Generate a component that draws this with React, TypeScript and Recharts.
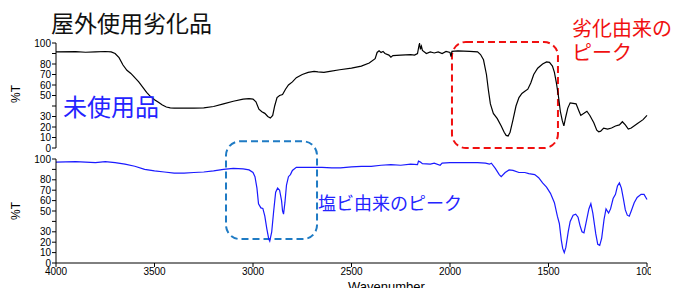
import React from "react";
import { LineChart, Line, XAxis, YAxis, ReferenceArea } from "recharts";

// 屋外使用劣化品 (black, top panel)
const agedWavenumbers = [
  4000, 3900, 3850, 3800, 3750, 3720, 3700, 3680, 3660, 3640, 3620, 3600, 3580, 3560, 3540, 3520, 3500, 3480,
  3460, 3440, 3420, 3400, 3300, 3250, 3200, 3150, 3100, 3050, 3020, 3000, 2985, 2970, 2955, 2940, 2925, 2912,
  2900, 2890, 2878, 2865, 2850, 2835, 2820, 2800, 2780, 2750, 2720, 2690, 2670, 2640, 2610, 2560, 2500, 2450,
  2410, 2380, 2370, 2360, 2350, 2340, 2330, 2310, 2300, 2290, 2250, 2200, 2180, 2165, 2160, 2155, 2150, 2145,
  2140, 2120, 2100, 2080, 2060, 2040, 2020, 2000, 1995, 1990, 1960, 1900, 1860, 1845, 1830, 1815, 1805, 1795,
  1780, 1760, 1740, 1725, 1715, 1705, 1695, 1680, 1665, 1650, 1635, 1620, 1605, 1590, 1575, 1555, 1530, 1510,
  1495, 1480, 1470, 1460, 1450, 1440, 1430, 1422, 1412, 1402, 1390, 1375, 1360, 1345, 1336, 1320, 1305, 1290,
  1270, 1255, 1245, 1235, 1220, 1200, 1180, 1160, 1140, 1125, 1110, 1095, 1080, 1050, 1020, 1000,
];
const agedT = [
  91.5, 91.8, 91.2, 91.6, 91.9, 91.5, 90, 86, 79, 74, 71, 67, 63, 58, 53, 49, 46, 43.5,
  41, 39, 38.3, 38, 38, 38.3, 39.5, 42, 44.5, 46.5, 47, 46.5, 44, 37, 34.5, 33, 30, 28.5,
  31, 40, 48, 50, 51, 56, 60, 63, 67, 70, 72, 73, 72.5, 72, 73, 74.5, 76, 78,
  81, 85, 91, 92.5, 91, 92, 90, 88.5, 86.5, 88, 88.5, 89, 88.5, 90, 95, 100, 94, 97,
  93, 90, 91.5, 90.5, 91.5, 90, 92, 91, 87, 92, 92.5, 92, 91.5, 89, 84, 70, 55, 42,
  33, 28, 21, 15, 12, 11.5, 15, 27, 40, 48, 52, 54, 56, 62, 70, 76, 80, 82,
  81.5, 78, 72, 62, 50, 35, 26, 21, 30, 38, 43, 42.5, 42, 35, 31, 33, 35, 31,
  24, 17, 15.5, 16, 19, 18, 19, 21, 22, 25, 22, 18, 19, 23, 27, 31,
];

// 未使用品 (blue, bottom panel)
const newWavenumbers = [
  4000, 3900, 3800, 3750, 3700, 3650, 3600, 3550, 3500, 3450, 3400, 3350, 3300, 3250, 3200, 3150, 3100, 3050,
  3020, 3000, 2990, 2980, 2972, 2960, 2950, 2940, 2930, 2920, 2915, 2905, 2895, 2885, 2875, 2865, 2855, 2850,
  2845, 2838, 2830, 2820, 2810, 2800, 2780, 2700, 2650, 2600, 2556, 2500, 2450, 2400, 2350, 2300, 2250, 2200,
  2165, 2160, 2150, 2140, 2100, 2080, 2050, 2040, 2000, 1950, 1860, 1820, 1800, 1790, 1770, 1750, 1740, 1720,
  1700, 1680, 1650, 1620, 1600, 1570, 1550, 1530, 1510, 1490, 1470, 1455, 1445, 1435, 1428, 1420, 1412, 1400,
  1390, 1375, 1362, 1350, 1340, 1330, 1320, 1310, 1295, 1285, 1275, 1260, 1250, 1240, 1230, 1218, 1208, 1195,
  1185, 1172, 1160, 1150, 1140, 1130, 1120, 1110, 1100, 1090, 1080, 1065, 1050, 1030, 1015, 1000,
];
const newT = [
  97, 97.5, 96.5, 97.5, 96.5, 95, 93, 90, 88.5, 87.5, 86.5, 86.5, 87, 87.5, 88.5, 90, 91, 90.5,
  89.5, 87, 83, 72, 57, 53, 52.5, 45, 33, 23, 21, 30, 50, 68, 72, 70, 60, 50,
  47, 58, 75, 83, 85, 89, 92, 92, 92, 91.5, 91.5, 92.5, 93, 93, 94, 94.5, 94, 95,
  94.5, 98, 97, 95.5, 95, 96, 94, 96, 96.5, 96.5, 96.5, 96, 95, 96, 91, 85, 83, 87,
  89.5, 89, 87, 87, 86, 85, 82, 77, 73, 67, 58, 45, 38, 22, 14, 10, 15, 30,
  40, 46, 47, 44, 36, 30, 29, 38, 52, 57, 48, 28, 18, 17, 24, 42, 52, 48,
  52, 62, 66, 74, 77, 72, 62, 51, 46, 45, 50, 58, 63, 66, 66, 61,
];

const xTicks = [4000, 3500, 3000, 2500, 2000, 1500, 1000];
const yTicks = [0, 10, 20, 30, 40, 50, 60, 70, 80, 90, 100];
const hiddenYLabels = [40, 90];

const agedData = agedWavenumbers.map((wn, i) => ({ wn, t: agedT[i] }));
const newData = newWavenumbers.map((wn, i) => ({ wn, t: newT[i] }));

const W = 674;
const H = 288;
const tickFont = { fontSize: 10, fill: "#000", fontFamily: "'Liberation Sans', Arial, sans-serif" };
const jp = "'Noto Sans CJK JP', 'Noto Sans', sans-serif";

const roundedBox = (color: string) => (props: any) => (
  <rect
    x={props.x}
    y={props.y}
    width={props.width}
    height={props.height}
    rx={14}
    ry={14}
    fill="none"
    stroke={color}
    strokeWidth={2}
    strokeDasharray="7 4"
  />
);

const yAxisProps = {
  type: "number" as const,
  domain: [0, 100],
  ticks: yTicks,
  width: 56,
  tickSize: 4,
  tickMargin: 1,
  interval: 0 as const,
  tick: tickFont,
  tickFormatter: (v: number) => (hiddenYLabels.includes(v) ? "" : String(v)),
  axisLine: { stroke: "#000" },
  tickLine: { stroke: "#000" },
};

export default function App() {
  return (
    <div style={{ position: "absolute", left: 0, top: 0, width: W, height: H, overflow: "hidden", background: "#fff" }}>
      {/* top panel */}
      <div style={{ position: "absolute", left: 0, top: 0 }}>
        <LineChart width={W} height={154} data={agedData} margin={{ top: 43, right: 27, left: 0, bottom: 6 }}>
          <XAxis dataKey="wn" type="number" domain={[1000, 4000]} reversed hide />
          <YAxis {...yAxisProps} />
          <ReferenceArea x1={1990} x2={1452} y1={0} y2={101} ifOverflow="visible" shape={roundedBox("#f01010")} />
          <Line dataKey="t" stroke="#000" strokeWidth={1.2} dot={false} isAnimationActive={false} />
        </LineChart>
      </div>
      {/* bottom panel */}
      <div style={{ position: "absolute", left: 0, top: 0 }}>
        <LineChart width={W} height={H} data={newData} margin={{ top: 159, right: 27, left: 0, bottom: 0 }}>
          <XAxis
            dataKey="wn"
            type="number"
            domain={[1000, 4000]}
            reversed
            ticks={xTicks}
            interval={0}
            height={25}
            tickSize={4}
            tickMargin={1}
            tick={tickFont}
            axisLine={{ stroke: "#000" }}
            tickLine={{ stroke: "#000" }}
          />
          <YAxis {...yAxisProps} />
          <ReferenceArea x1={3137} x2={2675} y1={23} y2={117} ifOverflow="visible" shape={roundedBox("#1f7bc4")} />
          <Line dataKey="t" stroke="#1a1aff" strokeWidth={1.2} dot={false} isAnimationActive={false} />
        </LineChart>
      </div>
      {/* annotations */}
      <svg width={W} height={H} style={{ position: "absolute", left: 0, top: 0, pointerEvents: "none" }}>
        {/* the source image is cropped just right of the axis end */}
        <rect x={651} y={265} width={30} height={14} fill="#fff" />
        <text x={51} y={22} dominantBaseline="central" fontSize={23} fontFamily={jp} fill="#111">
          屋外使用劣化品
        </text>
        <text x={63} y={105} dominantBaseline="central" fontSize={24} fontFamily={jp} fill="#2424ff">
          未使用品
        </text>
        <text x={572} y={27} dominantBaseline="central" fontSize={20} fontFamily={jp} fill="#f01010">
          劣化由来の
        </text>
        <text x={572} y={51} dominantBaseline="central" fontSize={20} fontFamily={jp} fill="#f01010">
          ピーク
        </text>
        <text x={318} y={202} dominantBaseline="central" fontSize={18} fontFamily={jp} fill="#2424ff">
          塩ビ由来のピーク
        </text>
        <text x={16} y={94} transform="rotate(-90 16 94)" textAnchor="middle" dominantBaseline="central" {...tickFont} fontSize={12}>
          %T
        </text>
        <text x={16} y={211} transform="rotate(-90 16 211)" textAnchor="middle" dominantBaseline="central" {...tickFont} fontSize={12}>
          %T
        </text>
        <text x={348} y={291} {...tickFont} fontSize={13}>
          Wavenumber
        </text>
      </svg>
    </div>
  );
}
